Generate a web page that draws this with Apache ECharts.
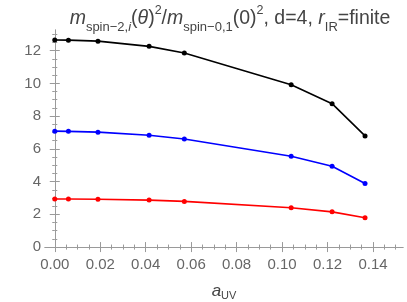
<!DOCTYPE html>
<html><head><meta charset="utf-8">
<script src="https://cdn.jsdelivr.net/npm/echarts@6/dist/echarts.min.js"></script>
<style>html,body{margin:0;padding:0;background:#fff}#c{width:407px;height:302px}</style>
</head><body><div id="c"></div>
<script>
const aUV = [0, 0.006, 0.019, 0.0415, 0.057, 0.104, 0.122, 0.1365];
const blackVals = [12.65, 12.64, 12.58, 12.26, 11.85, 9.92, 8.76, 6.79];
const blueVals = [7.08, 7.07, 7.02, 6.83, 6.60, 5.55, 4.94, 3.88];
const redVals = [2.94, 2.94, 2.92, 2.87, 2.79, 2.40, 2.15, 1.79];
const xTicks = [0, 0.02, 0.04, 0.06, 0.08, 0.10, 0.12, 0.14];
const yTicks = [0, 2, 4, 6, 8, 10, 12];

const xMin = -0.0043, xMax = 0.1532, yMin = -0.24, yMax = 13.26;
const xMinor = [], yMinor = [];
for (let i = 0; i < 8 * 4 + 2; i++) { const v = +( -0.005 + i * 0.005).toFixed(4); if (v > xMin && v < xMax) xMinor.push(v); }
for (let i = 0; i < 7 * 4 + 2; i++) { const v = +(i * 0.5).toFixed(2); if (v > yMin && v < yMax) yMinor.push(v); }

const frame = '#9a9a9a', lab = '#666666', font = 'Liberation Sans';
function xAx(pos, ticks, len, showLine, showLabel, extra) {
  return Object.assign({
    type: 'value', position: pos, offset: 0, min: xMin, max: xMax,
    axisLine: {show: showLine, lineStyle: {color: frame, width: 1}},
    axisTick: {show: true, inside: true, length: len, customValues: ticks, lineStyle: {color: frame}},
    axisLabel: {show: showLabel, customValues: ticks, color: lab, fontSize: 15, fontFamily: font, margin: 6, formatter: v => v.toFixed(2)},
    splitLine: {show: false}
  }, extra || {});
}
function yAx(pos, ticks, len, showLine, showLabel) {
  return {
    type: 'value', position: pos, offset: 0, min: yMin, max: yMax,
    axisLine: {show: showLine, lineStyle: {color: frame, width: 1}},
    axisTick: {show: true, inside: true, length: len, customValues: ticks, lineStyle: {color: frame}},
    axisLabel: {show: showLabel, customValues: ticks, color: lab, fontSize: 15, fontFamily: font, margin: 4, formatter: v => String(Math.round(v))},
    splitLine: {show: false}
  };
}
const chart = echarts.init(document.getElementById('c'), null, {renderer: 'canvas'});
function mk(vals, color) {
  return {type: 'line', xAxisIndex: 0, yAxisIndex: 0, data: aUV.map((x, i) => [x, vals[i]]),
    symbol: 'circle', symbolSize: 5, itemStyle: {color: color}, lineStyle: {color: color, width: 1.6}, animation: false};
}
const tc = '#444';
chart.setOption({
  animation: false,
  title: {
    text: '{m|m}{s|spin−2,}{si|i}{n|(}{m|θ}{n|)}{p|2}{n|/}{m|m}{s|spin−0,1}{n|(0)}{p|2}{n|, d=4, }{m|r}{s|IR}{n|=finite}',
    left: 225, top: -1, textAlign: 'center',
    textStyle: {
      fontWeight: 'normal',
      rich: {
        m: {fontSize: 19.5, fontStyle: 'italic', fontWeight: 'normal', color: tc, fontFamily: font, lineHeight: 26, verticalAlign: 'middle'},
        n: {fontSize: 19.5, fontWeight: 'normal', color: tc, fontFamily: font, lineHeight: 26, verticalAlign: 'middle'},
        s: {fontSize: 13, fontWeight: 'normal', color: tc, fontFamily: font, lineHeight: 14, verticalAlign: 'bottom'},
        si: {fontSize: 13, fontStyle: 'italic', fontWeight: 'normal', color: tc, fontFamily: font, lineHeight: 14, verticalAlign: 'bottom'},
        p: {fontSize: 12.5, fontWeight: 'normal', color: tc, fontFamily: font, lineHeight: 30, verticalAlign: 'top'}
      }
    }
  },
  grid: {left: 45, right: 4, top: 30, bottom: 51, containLabel: false, outerBoundsMode: 'none'},
  xAxis: [
    xAx('bottom', xTicks, 5, true, true, {
      name: '{m|a}{s|UV}', nameLocation: 'middle', nameGap: 30,
      nameTextStyle: {rich: {
        m: {fontSize: 17, fontStyle: 'italic', color: tc, fontFamily: font, lineHeight: 20, verticalAlign: 'middle'},
        s: {fontSize: 11, color: tc, fontFamily: font, lineHeight: 12, verticalAlign: 'bottom'}
      }}
    }),
    xAx('bottom', xMinor, 2.5, false, false),
    xAx('top', xTicks, 5, true, false),
    xAx('top', xMinor, 2.5, false, false)
  ],
  yAxis: [
    yAx('left', yTicks, 5, true, true),
    yAx('left', yMinor, 2.5, false, false),
    yAx('right', yTicks, 5, true, false),
    yAx('right', yMinor, 2.5, false, false)
  ],
  series: [mk(blackVals, '#000000'), mk(blueVals, '#0000ff'), mk(redVals, '#ff0000')]
});
</script></body></html>
